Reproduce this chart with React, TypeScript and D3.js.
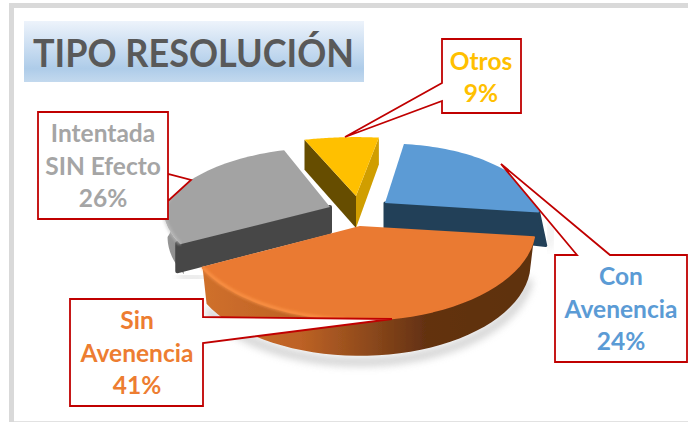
import React from "react";
import * as d3 from "d3";

const categories = ["Con Avenencia", "Sin Avenencia", "Intentada SIN Efecto", "Otros"];
const values = [24, 41, 26, 9];
const labelLines = [["Con", "Avenencia", "24%"], ["Sin", "Avenencia", "41%"], ["Intentada", "SIN Efecto", "26%"], ["Otros", "9%"]];
const topColors = ["#5b9bd5", "#ea7a31", "#a3a3a3", "#ffc000"];
const textColors = ["#5b9bd5", "#ed7d31", "#a5a5a5", "#ffc000"];
const title = "TIPO RESOLUCIÓN";

const W = 688, H = 422;
const R = 170;
const tips: [number, number][] = [[385, 203], [360, 227], [330, 207], [356, 196]];
const radiusScale = [0.91, 1.03, 0.98, 1.1];
const squash = [0.55, 0.53, 0.51, 0.45];
const depths = [33, 36, 30, 30];
const drawOrder = [2, 0, 3, 1];

const pieAngles = d3.pie<number>().sort(null).startAngle((10 * Math.PI) / 180).endAngle((370 * Math.PI) / 180)(values);

function proj(i: number, a: number): [number, number] {
  const Y = Math.cos(a);
  const p = Y > 0 ? 1 - 0.3 * Y : 1;
  const r = R * radiusScale[i];
  return [tips[i][0] + r * Math.sin(a) * p, tips[i][1] - r * squash[i] * Y * p];
}
const line = d3.line<[number, number]>();
function arcPts(i: number, a0: number, a1: number) {
  return d3.range(0, 41).map((t) => proj(i, a0 + ((a1 - a0) * t) / 40));
}
const downIn = (i: number, pts: [number, number][], h: number, f: number) =>
  pts.map(([x, y]) => [tips[i][0] + (x - tips[i][0]) * f, y + h] as [number, number]);

type Call = { box: [number, number, number, number]; ptr: [number, number][]; side: string; cx: number; base: number[] };
const callouts: Call[] = [
  { box: [555, 255, 687, 362], ptr: [[577, 255], [501, 164], [610, 255]], side: "t", cx: 621, base: [285, 318, 350] },
  { box: [70, 299, 203, 406], ptr: [[203, 343], [392, 319], [203, 317]], side: "r", cx: 137, base: [329, 362, 394] },
  { box: [38, 112, 168, 219], ptr: [[168, 174], [191, 180], [168, 201]], side: "r", cx: 103, base: [142, 175, 207] },
  { box: [442, 39, 521, 113], ptr: [[442, 83], [345, 137], [442, 101]], side: "l", cx: 481, base: [70, 102] },
];

function calloutPath(c: Call) {
  const [x0, y0, x1, y1] = c.box;
  let pts: [number, number][] = [];
  if (c.side === "t") pts = [[x0, y0], ...c.ptr, [x1, y0], [x1, y1], [x0, y1]];
  if (c.side === "r") pts = [[x0, y0], [x1, y0], ...[...c.ptr].reverse(), [x1, y1], [x0, y1]];
  if (c.side === "l") pts = [[x0, y0], [x1, y0], [x1, y1], [x0, y1], ...[...c.ptr].reverse()];
  return line(pts) + "Z";
}

export default function App() {
  const slices = pieAngles.map((s, i) => {
    const a0 = s.startAngle, a1 = s.endAngle;
    const arc = arcPts(i, a0, a1);
    const top = line([tips[i], ...arc]) + "Z";
    const d = depths[i];
    const lo = Math.max(a0, Math.PI / 2 - 0.05), hi = Math.min(a1, (3 * Math.PI) / 2 + 0.05);
    const rim = hi > lo ? arcPts(i, lo, hi) : [];
    const wall = rim.length ? line([...rim, ...downIn(i, rim, d, 0.975).reverse()]) + "Z" : "";
    return { i, a0, a1, arc, top, wall, d };
  });
  const byI = (i: number) => slices[i];
  const o = byI(1), b = byI(0), g = byI(2), y = byI(3);
  const bc = proj(0, b.a1);
  const gc = proj(2, g.a0);
  const yl = proj(3, y.a0), yr = proj(3, y.a1);
  const blueEdge = line([tips[0], bc, [bc[0] + 7, bc[1] + b.d], [tips[0][0], tips[0][1] + 25]]) + "Z";
  const greyEdge = line([tips[2], [gc[0] - 3, gc[1] - 1], [gc[0] - 3, gc[1] + g.d - 3], [tips[2][0], tips[2][1] + g.d - 5]]) + "Z";
  const yellowRight = line([tips[3], yr, [yr[0], yr[1] + 27], [tips[3][0], tips[3][1] + y.d + 2]]) + "Z";
  const yellowLeft = line([tips[3], yl, [yl[0], yl[1] + 30], [tips[3][0], tips[3][1] + y.d + 2]]) + "Z";
  return (
    <svg width={W} height={H} style={{ position: "absolute", left: 0, top: 0 }} fontFamily="Lato, 'Open Sans', sans-serif">
      <defs>
        <linearGradient id="tg" x1="0" y1="0" x2="0" y2="1">
          <stop offset="0" stopColor="#edf3fb" />
          <stop offset="0.78" stopColor="#aecce9" />
          <stop offset="1" stopColor="#c3d9ee" />
        </linearGradient>
        <linearGradient id="ow" gradientUnits="userSpaceOnUse" x1="201" y1="0" x2="532" y2="0">
          <stop offset="0" stopColor="#d0702c" />
          <stop offset="0.3" stopColor="#bd6225" />
          <stop offset="0.5" stopColor="#8f4a1c" />
          <stop offset="0.68" stopColor="#633111" />
          <stop offset="1" stopColor="#5e3010" />
        </linearGradient>
        <linearGradient id="gw" gradientUnits="userSpaceOnUse" x1="160" y1="0" x2="185" y2="0">
          <stop offset="0" stopColor="#9a9a9a" />
          <stop offset="1" stopColor="#8a8a8a" />
        </linearGradient>
        <filter id="blur" x="-20%" y="-20%" width="140%" height="140%"><feGaussianBlur stdDeviation="4" /></filter>
        <filter id="soft" x="-5%" y="-5%" width="110%" height="110%"><feGaussianBlur stdDeviation="0.7" /></filter>
        <filter id="bevel" x="-5%" y="-5%" width="110%" height="110%"><feGaussianBlur stdDeviation="1.6" /></filter>
      </defs>
      <rect width={W} height={H} fill="#fff" />
      <path d="M11.5 422V5.5H688" fill="none" stroke="#d9d9d9" strokeWidth="5" />
      <line x1="14" x2={W} y1="421.5" y2="421.5" stroke="#e2e2e2" />
      <rect x="24" y="21" width="340" height="61" fill="url(#tg)" />
      <text x="33" y="67" fontSize="38" fontWeight="700" fill="#595959" textLength="321" lengthAdjust="spacingAndGlyphs">{title}</text>

      <path d={line(downIn(1, o.arc, 42, 0.97)) ?? ""} fill="none" stroke="#999" strokeWidth="7" opacity="0.55" filter="url(#blur)" />
      <path d={line([[bc[0] + 10, bc[1] + 36], [bc[0] + 14, bc[1] + 10]]) ?? ""} fill="none" stroke="#aaa" strokeWidth="4" opacity="0.4" filter="url(#blur)" />
      <path d={line([[gc[0] - 2, gc[1] + 32], [gc[0] + 25, gc[1] + 34]]) ?? ""} fill="none" stroke="#aaa" strokeWidth="5" opacity="0.5" filter="url(#blur)" />

      {drawOrder.map((i) => {
        const s = byI(i);
        return (
          <g key={categories[i]} filter="url(#soft)">
            {i === 2 && <path d={s.wall} fill="url(#gw)" />}
            {i === 2 && <path d={greyEdge} fill="#474747" stroke="#474747" strokeWidth="4" strokeLinejoin="round" />}
            {i === 0 && <path d={blueEdge} fill="#224058" stroke="#224058" strokeWidth="3" strokeLinejoin="round" />}
            {i === 3 && <path d={yellowRight} fill="#d09e05" />}
            {i === 3 && <path d={yellowLeft} fill="#664d00" />}
            {i === 1 && <path d={s.wall} fill="url(#ow)" />}
            <path d={s.top} fill={topColors[i]} stroke={i === 1 ? topColors[i] : "none"} strokeWidth={i === 1 ? 2 : 0} strokeLinejoin="round" />
            {i === 1 && <path d={line(o.arc.slice(24)) ?? ""} fill="none" stroke="#ff9a4d" strokeWidth="3" opacity="0.8" filter="url(#bevel)" />}
            {i === 2 && <path d={line(s.arc.slice(0, 16)) ?? ""} fill="none" stroke="#c4c4c4" strokeWidth="3" opacity="0.7" filter="url(#bevel)" />}
          </g>
        );
      })}

      {callouts.map((c, i) => (
        <g key={categories[i]}>
          <path d={calloutPath(c)} fill="#fff" stroke="#c00000" strokeWidth="1.8" strokeLinejoin="miter" />
          {labelLines[i].map((t, j) => (
            <text key={t} x={c.cx} y={c.base[j]} textAnchor="middle" fontSize="24.5" fontWeight="700" fill={textColors[i]}>{t}</text>
          ))}
        </g>
      ))}
    </svg>
  );
}
